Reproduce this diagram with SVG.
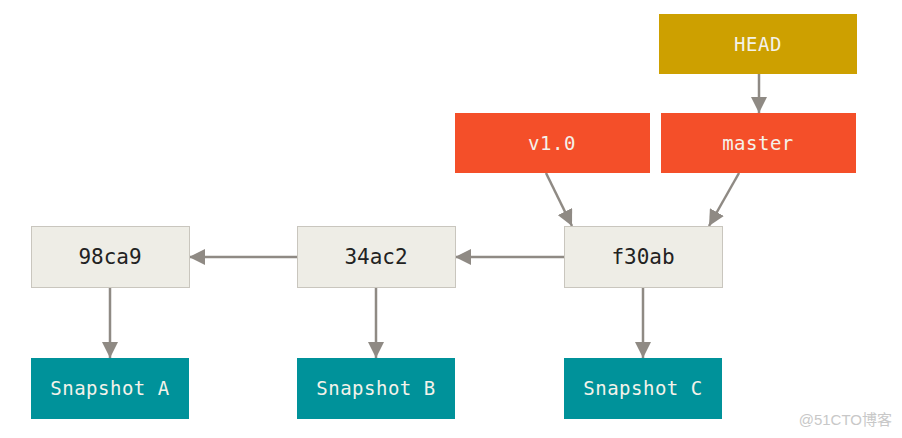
<svg xmlns="http://www.w3.org/2000/svg" width="902" height="438" viewBox="0 0 902 438">
<style>
.commit rect{fill:#eeede6;stroke:#c9c6be;stroke-width:1}
.commit text{fill:#222;font-family:"DejaVu Sans Mono","Liberation Mono",monospace;font-size:21px;text-anchor:middle;dominant-baseline:central}
.snap rect{fill:#00929a}
.ref rect{fill:#f44f29}
.head rect{fill:#cda000}
.lbl text{fill:#f4f2ea;font-family:"DejaVu Sans Mono","Liberation Mono",monospace;font-size:19px;text-anchor:middle;dominant-baseline:central;letter-spacing:0.5px}
.edge{stroke:#8f8a84;stroke-width:2.5;fill:none}
</style>
<defs>
<marker id="ah" viewBox="0 0 16 16" refX="16" refY="8" markerWidth="16" markerHeight="16" markerUnits="userSpaceOnUse" orient="auto">
<path d="M0,0 L16,8 L0,16 Z" fill="#8f8a84"/>
</marker>
</defs>
<rect width="902" height="438" fill="#fff"/>
<g id="connectors">
<line class="edge" x1="759" y1="74" x2="759" y2="113" marker-end="url(#ah)"/>
<line class="edge" x1="546" y1="173" x2="572" y2="226" marker-end="url(#ah)"/>
<line class="edge" x1="739" y1="173" x2="709" y2="226" marker-end="url(#ah)"/>
<line class="edge" x1="564" y1="257" x2="455" y2="257" marker-end="url(#ah)"/>
<line class="edge" x1="297" y1="257" x2="189" y2="257" marker-end="url(#ah)"/>
<line class="edge" x1="110" y1="287" x2="110" y2="358" marker-end="url(#ah)"/>
<line class="edge" x1="376" y1="287" x2="376" y2="358" marker-end="url(#ah)"/>
<line class="edge" x1="643" y1="287" x2="643" y2="358" marker-end="url(#ah)"/>
</g>
<g id="HEAD" class="head lbl"><rect x="659" y="14" width="198" height="60"/><text x="758" y="44">HEAD</text></g>
<g id="v1_0" class="ref lbl"><rect x="455" y="113" width="195" height="60"/><text x="552" y="143">v1.0</text></g>
<g id="master" class="ref lbl"><rect x="661" y="113" width="195" height="60"/><text x="758" y="143">master</text></g>
<g id="c98ca9" class="commit"><rect x="31.5" y="226.5" width="158" height="61"/><text x="110" y="257">98ca9</text></g>
<g id="c34ac2" class="commit"><rect x="297.5" y="226.5" width="158" height="61"/><text x="376" y="257">34ac2</text></g>
<g id="cf30ab" class="commit"><rect x="564.5" y="226.5" width="158" height="61"/><text x="643" y="257">f30ab</text></g>
<g id="snapA" class="snap lbl"><rect x="31" y="358" width="158" height="61"/><text x="110" y="388">Snapshot A</text></g>
<g id="snapB" class="snap lbl"><rect x="297" y="358" width="158" height="61"/><text x="376" y="388">Snapshot B</text></g>
<g id="snapC" class="snap lbl"><rect x="564" y="358" width="158" height="61"/><text x="643" y="388">Snapshot C</text></g>
<text x="892" y="425" text-anchor="end" font-family="'Liberation Sans','Noto Sans CJK SC',sans-serif" font-size="15" fill="#c8c8c8">@51CTO博客</text>
</svg>
